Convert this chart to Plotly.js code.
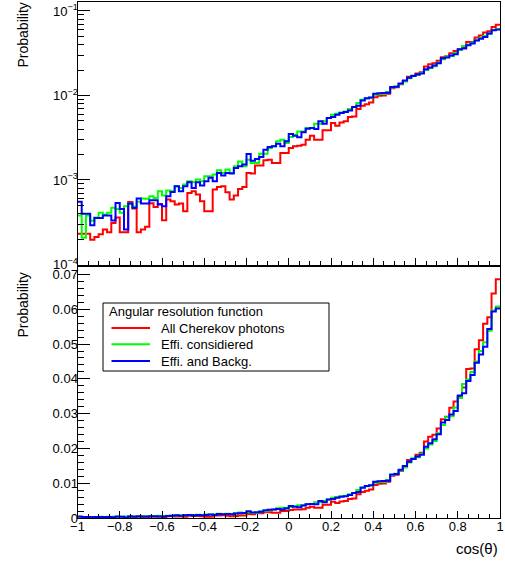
<!DOCTYPE html>
<html><head><meta charset="utf-8">
<script src="https://cdn.plot.ly/plotly-3.0.1.min.js"></script>
<style>html,body{margin:0;padding:0;background:#fff}#chart{width:505px;height:562px}</style>
</head><body><div id="chart"></div>
<script>
// histogram binning: 100 bins from -1 to 1
const binLow = -1;
const binWidth = 0.02;
const nBins = 100;

const redValues = [
0.000231,0.000231,0.000231,0.000196,0.000212,0.000228,0.00026,0.00024,0.00031,0.00036,
0.00024,0.00024,0.00055,0.00046,0.00024,0.00026,0.00028,0.00053,0.00048,0.00052,
0.000335,0.000587,0.000561,0.000512,0.000526,0.000428,0.000703,0.000736,0.000672,0.000561,
0.000428,0.000428,0.00077,0.000828,0.000843,0.000716,0.000587,0.000654,0.000784,0.000828,
0.00121,0.00119,0.00148,0.00148,0.00171,0.00174,0.00159,0.00159,0.00209,0.00209,
0.00239,0.0025,0.00255,0.00262,0.003,0.00334,0.003,0.003,0.00387,0.00387,
0.00472,0.00439,0.0048,0.00494,0.00555,0.00565,0.0069,0.00755,0.0079,0.00827,
0.00956,0.00992,0.0100,0.0105,0.0122,0.0125,0.0136,0.0148,0.0167,0.0170,
0.0182,0.0188,0.0220,0.0234,0.0240,0.0258,0.0284,0.0291,0.0317,0.0335,
0.0349,0.0375,0.0428,0.0430,0.0485,0.0511,0.0558,0.0577,0.0645,0.0686];

const greenValues = [
0.00038,0.000207,0.00038,0.00033,0.00036,0.00041,0.00039,0.00041,0.00047,0.000455,
0.00041,0.00049,0.000526,0.000481,0.000551,0.000603,0.000598,0.000643,0.000614,0.000736,
0.000654,0.00075,0.000736,0.000843,0.000806,0.000882,0.000966,0.00094,0.00101,0.000966,
0.00111,0.00111,0.00116,0.0013,0.00121,0.00133,0.00121,0.00145,0.00166,0.00145,
0.00174,0.00159,0.00159,0.00205,0.00205,0.00239,0.0025,0.00287,0.003,0.00274,
0.00323,0.00344,0.00376,0.00376,0.00412,0.00412,0.00463,0.00463,0.00494,0.0054,
0.00592,0.00608,0.0063,0.00648,0.0069,0.00729,0.00812,0.0089,0.0092,0.0094,
0.0102,0.0105,0.0104,0.0110,0.0124,0.0128,0.0137,0.0146,0.0160,0.0172,
0.0175,0.0185,0.0200,0.0212,0.0222,0.0244,0.0268,0.0290,0.0293,0.0318,
0.0345,0.0385,0.0398,0.0420,0.0450,0.0480,0.0505,0.0538,0.0596,0.0608];

const blueValues = [
0.000551,0.000398,0.000398,0.000292,0.000356,0.000356,0.00038,0.00038,0.000332,0.000536,
0.000455,0.00026,0.000526,0.000468,0.000603,0.000526,0.000526,0.000576,0.000576,0.000512,
0.00049,0.000643,0.000722,0.000843,0.000736,0.000843,0.00094,0.000806,0.00094,0.000859,
0.000966,0.00106,0.000966,0.00121,0.00113,0.00121,0.00119,0.00139,0.00145,0.00152,
0.00203,0.00169,0.00177,0.00187,0.00228,0.00246,0.0025,0.00269,0.0025,0.00287,
0.0035,0.00334,0.0032,0.00366,0.00405,0.00412,0.00401,0.00494,0.00463,0.0054,
0.00555,0.00592,0.00619,0.00636,0.00665,0.00729,0.00755,0.00874,0.0093,0.00948,
0.01047,0.01066,0.0107,0.0108,0.0126,0.0127,0.0139,0.0150,0.0162,0.0170,
0.0177,0.0182,0.0205,0.0215,0.0227,0.0241,0.0275,0.0282,0.0298,0.0308,
0.0352,0.0359,0.0394,0.0411,0.0446,0.0470,0.0492,0.0543,0.0593,0.0602];

const seriesNames = ['All Cherekov photons', 'Effi. considiered', 'Effi. and Backg.'];
const seriesColors = ['#ff0000', '#00ff00', '#0000ff'];
const seriesValues = [redValues, greenValues, blueValues];
const legendHeader = 'Angular resolution function';

const logTickVals = [1e-4, 1e-3, 1e-2, 1e-1];
const logTickText = ['10<sup>\u22124</sup>', '10<sup>\u22123</sup>', '10<sup>\u22122</sup>', '10<sup>\u22121</sup>'];
const logMinorVals = [];
[1e-4, 1e-3, 1e-2].forEach(d => { for (let k = 2; k <= 9; k++) logMinorVals.push(k * d); });

const edges = [];
for (let i = 0; i <= nBins; i++) edges.push(binLow + i * binWidth);

const traces = [];
seriesValues.forEach((vals, s) => {
  const y = vals.concat([vals[vals.length - 1]]);
  traces.push({x: edges, y: y, type: 'scatter', mode: 'lines', name: seriesNames[s], line: {shape: 'hv', color: seriesColors[s], width: 2},
    xaxis: 'x', yaxis: 'y', showlegend: false, hoverinfo: 'skip'});
});
seriesValues.forEach((vals, s) => {
  const y = vals.concat([vals[vals.length - 1]]);
  traces.push({x: edges, y: y, type: 'scatter', mode: 'lines', name: seriesNames[s], line: {shape: 'hv', color: seriesColors[s], width: 2},
    xaxis: 'x2', yaxis: 'y2', showlegend: false, hoverinfo: 'skip'});
});

const W = 505, H = 562;
const px = v => v / W;
const py = v => 1 - v / H;
const xDom = [px(77.5), px(500)];
const fam = '"Liberation Sans", Arial, sans-serif';
const font = {family: fam, size: 13, color: '#000'};

const axBase = {showline: true, linecolor: '#000', linewidth: 1, mirror: true, showgrid: false, zeroline: false,
  ticks: 'inside', tickcolor: '#000', tickwidth: 1, automargin: false, tickfont: font};

// legend (drawn as a ROOT-style TLegend box)
const legBox = {x0: 103, x1: 329, y0: 303, y1: 371};
const legRowsY = [328, 344.3, 361];
const shapes = [
  {type: 'rect', xref: 'paper', yref: 'paper', x0: px(legBox.x0), x1: px(legBox.x1), y0: py(legBox.y1), y1: py(legBox.y0),
   line: {color: '#000', width: 1}, fillcolor: '#fff', layer: 'above'}
];
const annotations = [
  {text: 'Probability', xref: 'paper', yref: 'paper', x: px(22.5), y: py(35), xanchor: 'center', yanchor: 'middle',
    textangle: -90, showarrow: false, font: {family: fam, size: 14, color: '#000'}},
  {text: 'Probability', xref: 'paper', yref: 'paper', x: px(22.5), y: py(305), xanchor: 'center', yanchor: 'middle',
    textangle: -90, showarrow: false, font: {family: fam, size: 14, color: '#000'}},
  {text: 'cos(\u03b8)', xref: 'paper', yref: 'paper', x: px(500), y: py(548), xanchor: 'right', yanchor: 'middle',
    showarrow: false, font: {family: fam, size: 15, color: '#000'}},
  {text: legendHeader, xref: 'paper', yref: 'paper', x: px(107), y: py(311), xanchor: 'left', yanchor: 'middle',
    showarrow: false, font: {family: fam, size: 13, color: '#000'}}
];
seriesNames.forEach((name, s) => {
  shapes.push({type: 'line', xref: 'paper', yref: 'paper', x0: px(111.5), x1: px(150), y0: py(legRowsY[s]), y1: py(legRowsY[s]),
    line: {color: seriesColors[s], width: 2}, layer: 'above'});
  annotations.push({text: name, xref: 'paper', yref: 'paper', x: px(159), y: py(legRowsY[s]), xanchor: 'left', yanchor: 'middle',
    showarrow: false, font: {family: fam, size: 13, color: '#000'}});
});

const layout = {
  width: W, height: H,
  margin: {l: 0, r: 0, t: 0, b: 0},
  paper_bgcolor: '#fff', plot_bgcolor: '#fff',
  font: font,
  showlegend: false,
  xaxis: Object.assign({}, axBase, {domain: xDom, anchor: 'y', range: [-1, 1], tick0: -1, dtick: 0.2, ticklen: 7,
    showticklabels: false, minor: {dtick: 0.05, ticklen: 4, ticks: 'inside', tickcolor: '#000', showgrid: false}}),
  yaxis: Object.assign({}, axBase, {domain: [py(264.5), py(1.5)], anchor: 'x', type: 'log', range: [-4, -0.888],
    tickmode: 'array', tickvals: logTickVals, ticktext: logTickText, ticklen: 12, ticklabelstandoff: -4,
    minor: {tickmode: 'array', tickvals: logMinorVals, ticklen: 6, ticks: 'inside', tickcolor: '#000', showgrid: false}}),
  xaxis2: Object.assign({}, axBase, {domain: xDom, anchor: 'y2', range: [-1, 1], tick0: -1, dtick: 0.2, ticklen: 7,
    ticklabelstandoff: -4,
    minor: {dtick: 0.05, ticklen: 4, ticks: 'inside', tickcolor: '#000', showgrid: false}}),
  yaxis2: Object.assign({}, axBase, {domain: [py(518.3), py(267)], anchor: 'x2', range: [0, 0.0721],
    tick0: 0, dtick: 0.01, ticklen: 12, ticklabelstandoff: -4,
    minor: {dtick: 0.002, ticklen: 6, ticks: 'inside', tickcolor: '#000', showgrid: false}}),
  shapes: shapes,
  annotations: annotations
};

Plotly.newPlot('chart', traces, layout, {staticPlot: true, displayModeBar: false});
</script>
</body></html>
